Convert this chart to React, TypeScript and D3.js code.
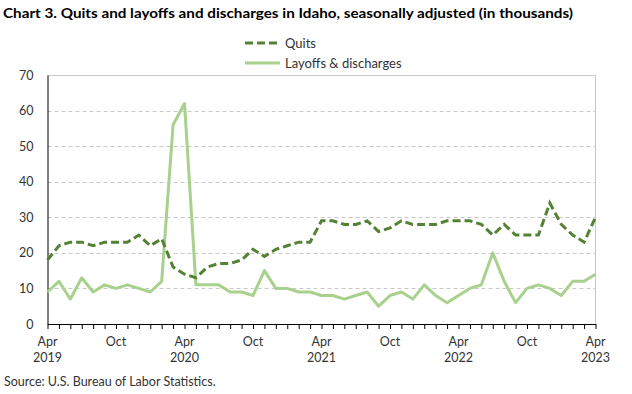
import { useEffect, useRef } from 'react';
import * as d3 from 'd3';

// monthly, Apr 2019 .. Apr 2023
const months = [
  'Apr 2019', 'May 2019', 'Jun 2019', 'Jul 2019', 'Aug 2019', 'Sep 2019', 'Oct 2019', 'Nov 2019', 'Dec 2019',
  'Jan 2020', 'Feb 2020', 'Mar 2020', 'Apr 2020', 'May 2020', 'Jun 2020', 'Jul 2020', 'Aug 2020', 'Sep 2020',
  'Oct 2020', 'Nov 2020', 'Dec 2020', 'Jan 2021', 'Feb 2021', 'Mar 2021', 'Apr 2021', 'May 2021', 'Jun 2021',
  'Jul 2021', 'Aug 2021', 'Sep 2021', 'Oct 2021', 'Nov 2021', 'Dec 2021', 'Jan 2022', 'Feb 2022', 'Mar 2022',
  'Apr 2022', 'May 2022', 'Jun 2022', 'Jul 2022', 'Aug 2022', 'Sep 2022', 'Oct 2022', 'Nov 2022', 'Dec 2022',
  'Jan 2023', 'Feb 2023', 'Mar 2023', 'Apr 2023',
];

const quits = [
  18, 22, 23, 23, 22, 23, 23, 23, 25, 22, 24, 16, 14,
  13, 16, 17, 17, 18, 21, 19, 21, 22, 23, 23, 29,
  29, 28, 28, 29, 26, 27, 29, 28, 28, 28, 29, 29,
  29, 28, 25, 28, 25, 25, 25, 34, 28, 25, 23, 30,
];

const layoffs = [
  9, 12, 7, 13, 9, 11, 10, 11, 10, 9, 12, 56, 62,
  11, 11, 11, 9, 9, 8, 15, 10, 10, 9, 9, 8,
  8, 7, 8, 9, 5, 8, 9, 7, 11, 8, 6, 8,
  10, 11, 20, 12, 6, 10, 11, 10, 8, 12, 12, 14,
];

const yTicks = [0, 10, 20, 30, 40, 50, 60, 70];
const seriesNames = ['Quits', 'Layoffs & discharges'];

const FONT = 'Lato, "Open Sans", sans-serif';

export default function App() {
  const ref = useRef<SVGSVGElement>(null);
  const width = 632;
  const height = 394;
  const left = 47.5;
  const right = 595.5;
  const top = 75;
  const bottom = 324;

  useEffect(() => {
    const svg = d3.select(ref.current);
    svg.selectAll('*').remove();

    const x = d3.scaleLinear().domain([0, months.length - 1]).range([left, right]);
    const y = d3.scaleLinear().domain([0, 70]).range([bottom, top]);

    svg.append('text')
      .attr('x', 3)
      .attr('y', 18)
      .attr('font-family', FONT)
      .attr('font-weight', 'bold')
      .attr('font-size', 14)
      .attr('textLength', 570)
      .attr('lengthAdjust', 'spacingAndGlyphs')
      .attr('fill', '#000')
      .text('Chart 3. Quits and layoffs and discharges in Idaho, seasonally adjusted (in thousands)');

    // gridlines
    svg.append('g')
      .selectAll('line')
      .data(yTicks.filter((t) => t > 0 && t < 70))
      .enter()
      .append('line')
      .attr('x1', left)
      .attr('x2', right)
      .attr('y1', (d) => Math.round(y(d)) + 0.5)
      .attr('y2', (d) => Math.round(y(d)) + 0.5)
      .attr('stroke', '#c8c8c8')
      .attr('stroke-dasharray', '4,3');

    // plot border top/right
    svg.append('path')
      .attr('d', `M${left},${top + 0.5}H${right}V${bottom}`)
      .attr('fill', 'none')
      .attr('stroke', '#c8c8c8')
      .attr('stroke-width', 1);

    // y axis
    const yAxis = d3.axisLeft(y).tickValues(yTicks).tickSize(0).tickPadding(14);
    const yg = svg.append('g').attr('transform', `translate(${left},0)`).call(yAxis);
    yg.select('.domain').attr('stroke', '#000');
    yg.selectAll('text').attr('font-family', FONT).attr('font-size', 12.5).attr('fill', '#333');

    // x axis
    const xAxis = d3.axisBottom(x)
      .tickValues(d3.range(months.length))
      .tickSize(5)
      .tickSizeOuter(0)
      .tickFormat(() => '');
    const xg = svg.append('g').attr('transform', `translate(0,${bottom})`).call(xAxis);
    xg.select('.domain').attr('stroke', '#000');
    xg.selectAll('.tick line').attr('stroke', '#000');

    const labelIdx = d3.range(0, months.length, 6);
    const lg = svg.append('g')
      .attr('font-family', FONT)
      .attr('font-size', 12.5)
      .attr('fill', '#333')
      .attr('text-anchor', 'middle');
    lg.selectAll('text.m')
      .data(labelIdx)
      .enter()
      .append('text')
      .attr('class', 'm')
      .attr('x', (d) => x(d))
      .attr('y', 346)
      .text((d) => months[d].split(' ')[0]);
    lg.selectAll('text.yr')
      .data(labelIdx.filter((d) => months[d].startsWith('Apr')))
      .enter()
      .append('text')
      .attr('class', 'yr')
      .attr('x', (d) => x(d))
      .attr('y', 362)
      .text((d) => months[d].split(' ')[1]);

    const line = d3.line<number>().x((_, i) => x(i)).y((d) => y(d));

    svg.append('path')
      .datum(layoffs)
      .attr('d', line)
      .attr('fill', 'none')
      .attr('stroke', '#a9d18e')
      .attr('stroke-width', 3)
      .attr('stroke-linejoin', 'round');

    svg.append('path')
      .datum(quits)
      .attr('d', line)
      .attr('fill', 'none')
      .attr('stroke', '#548235')
      .attr('stroke-width', 3)
      .attr('stroke-dasharray', '8,4');

    // legend
    const leg = svg.append('g').attr('font-family', FONT).attr('font-size', 13).attr('fill', '#333');
    leg.append('line')
      .attr('x1', 245).attr('x2', 280).attr('y1', 43).attr('y2', 43)
      .attr('stroke', '#548235').attr('stroke-width', 3).attr('stroke-dasharray', '8,4');
    leg.append('text').attr('x', 285).attr('y', 47.5).text(seriesNames[0]);
    leg.append('line')
      .attr('x1', 245).attr('x2', 280).attr('y1', 63).attr('y2', 63)
      .attr('stroke', '#a9d18e').attr('stroke-width', 3);
    leg.append('text').attr('x', 285).attr('y', 67.5).text(seriesNames[1]);

    svg.append('text')
      .attr('x', 4)
      .attr('y', 386)
      .attr('font-family', FONT)
      .attr('font-size', 12.5)
      .attr('fill', '#333')
      .text('Source: U.S. Bureau of Labor Statistics.');
  }, []);

  return (
    <svg
      ref={ref}
      width={width}
      height={height}
      style={{ position: 'absolute', left: 0, top: 0, background: '#fff' }}
    />
  );
}
